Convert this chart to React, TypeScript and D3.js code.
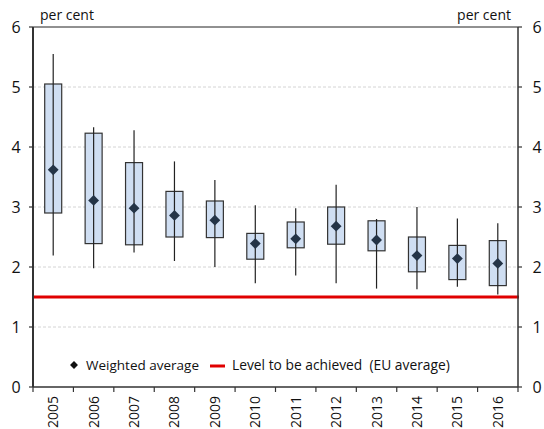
import React from "react";
import * as d3 from "d3";

const years = ["2005","2006","2007","2008","2009","2010","2011","2012","2013","2014","2015","2016"];
const whiskerHigh = [5.55, 4.33, 4.28, 3.76, 3.45, 3.03, 2.98, 3.37, 2.8, 3.0, 2.81, 2.73];
const boxHigh = [5.05, 4.23, 3.74, 3.26, 3.1, 2.56, 2.75, 3.0, 2.77, 2.5, 2.36, 2.44];
const weightedAvg = [3.62, 3.11, 2.98, 2.86, 2.78, 2.39, 2.47, 2.68, 2.45, 2.19, 2.14, 2.06];
const boxLow = [2.9, 2.39, 2.37, 2.5, 2.49, 2.13, 2.32, 2.38, 2.27, 1.92, 1.79, 1.69];
const whiskerLow = [2.19, 1.98, 2.24, 2.1, 2.0, 1.73, 1.86, 1.73, 1.64, 1.63, 1.67, 1.54];
const euLevel = 1.5;
const yTicks = [0, 1, 2, 3, 4, 5, 6];

export default function App() {
  const W = 544, H = 429;
  const left = 33, right = 518, top = 27, bottom = 387;
  const x = d3.scaleBand<string>().domain(years).range([left, right]).padding(0);
  const y = d3.scaleLinear().domain([0, 6]).range([bottom, top]);
  const bw = x.bandwidth();
  const boxW = 17;
  const font = "'Open Sans', sans-serif";
  const diamond = d3.symbol().type(d3.symbolDiamond2).size(75)() as string;

  return (
    <svg width={W} height={H} style={{ position: "absolute", left: 0, top: 0, background: "#fff" }}>
      {yTicks.filter(t => t > 0 && t < 6).map(t => (
        <line key={"g" + t} x1={left} x2={right} y1={y(t)} y2={y(t)} stroke="#d4d4d4" strokeDasharray="3,2" strokeWidth={1} />
      ))}
      <line x1={left} x2={right} y1={top} y2={top} stroke="#222" strokeWidth={1} />
      <line x1={left} x2={right + 1} y1={y(euLevel)} y2={y(euLevel)} stroke="#e00000" strokeWidth={3} />
      {years.map((yr, i) => {
        const cx = (x(yr) as number) + bw / 2;
        return (
          <g key={yr}>
            <rect x={cx - boxW / 2} y={y(boxHigh[i])} width={boxW} height={y(boxLow[i]) - y(boxHigh[i])}
              fill="#cfdef2" stroke="#333" strokeWidth={1.2} />
            <line x1={cx} x2={cx} y1={y(whiskerHigh[i])} y2={y(whiskerLow[i])} stroke="#222" strokeWidth={1.2} />
            <path d={diamond} transform={`translate(${cx},${y(weightedAvg[i])})`} fill="#243447" />
          </g>
        );
      })}
      <line x1={left} x2={left} y1={top} y2={bottom} stroke="#333" strokeWidth={2} />
      <line x1={right} x2={right} y1={top} y2={bottom} stroke="#333" strokeWidth={1.5} />
      <line x1={left} x2={right} y1={bottom} y2={bottom} stroke="#333" strokeWidth={1.5} />
      {yTicks.map(t => (
        <g key={"t" + t}>
          <line x1={left - 4} x2={left} y1={y(t)} y2={y(t)} stroke="#333" strokeWidth={1.2} />
          <line x1={right} x2={right + 4} y1={y(t)} y2={y(t)} stroke="#333" strokeWidth={1.2} />
          <text x={16} y={y(t)} dy="0.36em" textAnchor="middle" fontFamily={font} fontSize={16} fill="#111">{t}</text>
          <text x={537} y={y(t)} dy="0.36em" textAnchor="middle" fontFamily={font} fontSize={16} fill="#111">{t}</text>
        </g>
      ))}
      {years.map(yr => (
        <line key={"xt" + yr} x1={x(yr) as number} x2={x(yr) as number} y1={bottom} y2={bottom + 5} stroke="#333" strokeWidth={1.2} />
      ))}
      <line x1={right} x2={right} y1={bottom} y2={bottom + 5} stroke="#333" strokeWidth={1.2} />
      {years.map(yr => {
        const cx = (x(yr) as number) + bw / 2;
        return (
          <text key={"xl" + yr} transform={`translate(${cx + 5},${bottom + 9}) rotate(-90)`} textAnchor="end"
            fontFamily={font} fontSize={14} fill="#111">{yr}</text>
        );
      })}
      <text x={40} y={20} fontFamily={font} fontSize={14} fill="#111">per cent</text>
      <text x={511} y={20} textAnchor="end" fontFamily={font} fontSize={14} fill="#111">per cent</text>
      <path d={d3.symbol().type(d3.symbolDiamond2).size(40)() as string} transform="translate(74,365)" fill="#111" />
      <text x={86} y={370} fontFamily={font} fontSize={13.5} fill="#111">Weighted average</text>
      <line x1={210} x2={225} y1={366} y2={366} stroke="#e00000" strokeWidth={3} />
      <text x={232} y={370} fontFamily={font} fontSize={13.8} fill="#111" style={{ whiteSpace: "pre" }}>Level to be achieved  (EU average)</text>
    </svg>
  );
}
